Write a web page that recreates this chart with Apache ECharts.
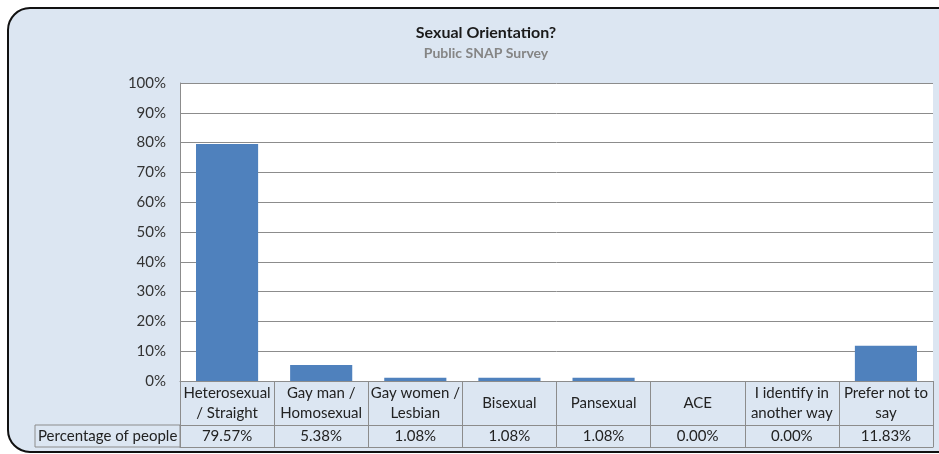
<!DOCTYPE html>
<html>
<head>
<meta charset="utf-8">
<script src="https://cdn.jsdelivr.net/npm/echarts@6/dist/echarts.min.js"></script>
<style>
  html, body { margin: 0; padding: 0; background: #fff; }
  #chart { width: 939px; height: 454px; }
</style>
</head>
<body>
<div id="chart"></div>
<script>
// categories as shown in the data table (line breaks as in the reference)
const categories = [
  'Heterosexual\n/ Straight',
  'Gay man /\nHomosexual',
  'Gay women /\nLesbian',
  'Bisexual',
  'Pansexual',
  'ACE',
  'I identify in\nanother way',
  'Prefer not to\nsay'
];
// percentage of people
const percentages = [79.57, 5.38, 1.08, 1.08, 1.08, 0.00, 0.00, 11.83];
const seriesName = 'Percentage of people';

const FONT = 'Lato';
const GRID_LINE = '#8c8c8c';
const TABLE_LINE = '#8c8c8c';

let myChart = echarts.init(document.getElementById('chart'));

let option = {
  animation: false,
  textStyle: { fontFamily: FONT },
  graphic: [
    {
      // chart area background with rounded border
      type: 'rect',
      z: -10,
      shape: { x: 8, y: 8, width: 980, height: 444, r: 22 },
      style: { fill: '#dce6f2', stroke: '#111', lineWidth: 2 }
    },
    {
      // left header cell of the data table
      type: 'rect',
      z: 5,
      shape: { x: 35, y: 425, width: 145, height: 22 },
      style: { fill: 'none', stroke: TABLE_LINE, lineWidth: 1 }
    },
    {
      type: 'text',
      z: 6,
      x: 38, y: 436,
      style: {
        text: seriesName,
        fontFamily: FONT, fontSize: 15, fill: '#222',
        verticalAlign: 'middle'
      }
    }
  ],
  title: {
    text: 'Sexual Orientation?',
    subtext: 'Public SNAP Survey',
    left: 481,
    top: 20,
    textAlign: 'center',
    itemGap: 5,
    textStyle: { fontFamily: FONT, fontSize: 16, fontWeight: 'bold', color: '#1a1a1a' },
    subtextStyle: { fontFamily: FONT, fontSize: 14, fontWeight: 'bold', color: '#858585' }
  },
  grid: {
    left: 180, right: 6, top: 83, bottom: 73,
    show: true, backgroundColor: '#fff', borderWidth: 0
  },
  xAxis: [
    {
      type: 'category',
      data: categories,
      position: 'bottom',
      axisLine: { lineStyle: { color: TABLE_LINE } },
      axisTick: { show: true, interval: 0, length: 44, lineStyle: { color: TABLE_LINE } },
      axisLabel: {
        interval: 0, margin: 22, verticalAlign: 'middle',
        lineHeight: 20, fontSize: 15, color: '#222', fontFamily: FONT
      }
    },
    {
      type: 'category',
      data: percentages.map(v => v.toFixed(2) + '%'),
      position: 'bottom',
      offset: 44,
      axisLine: { lineStyle: { color: TABLE_LINE } },
      axisTick: { show: true, interval: 0, length: 22, lineStyle: { color: TABLE_LINE } },
      axisLabel: {
        interval: 0, margin: 11, verticalAlign: 'middle',
        fontSize: 15, color: '#222', fontFamily: FONT
      }
    },
    {
      type: 'category',
      data: categories,
      position: 'bottom',
      offset: 66,
      axisLine: { lineStyle: { color: TABLE_LINE } },
      axisTick: { show: false },
      axisLabel: { show: false }
    }
  ],
  yAxis: {
    type: 'value',
    min: 0, max: 100, interval: 10,
    axisLine: { show: true, lineStyle: { color: GRID_LINE } },
    axisTick: { show: false },
    axisLabel: { formatter: '{value}%', fontSize: 15, color: '#333', margin: 14, fontFamily: FONT },
    splitLine: { show: true, lineStyle: { color: GRID_LINE } }
  },
  series: [{
    name: seriesName,
    type: 'bar',
    xAxisIndex: 0,
    data: percentages,
    barWidth: '66%',
    itemStyle: { color: '#4f81bd' }
  }]
};

myChart.setOption(option);
</script>
</body>
</html>
